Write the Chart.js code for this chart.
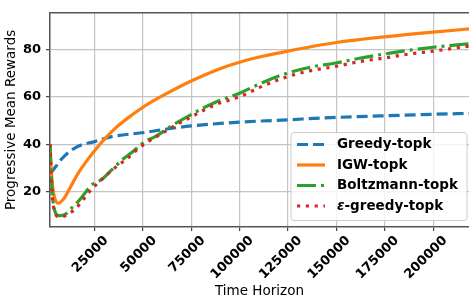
<!DOCTYPE html>
<html>
<head>
<meta charset="utf-8">
<script src="https://cdn.jsdelivr.net/npm/chart.js@4"></script>
<style>
  html, body { margin: 0; padding: 0; background: #fff; }
  #wrap { width: 469px; height: 308px; }
</style>
</head>
<body>
<div id="wrap"><canvas id="chart" width="469" height="308"></canvas></div>
<script>
// values
const xTicks = [25000, 50000, 75000, 100000, 125000, 150000, 175000, 200000];
const yTicks = [20, 40, 60, 80];

const greedyX = [2100, 3000, 5000, 8200, 12000, 16700, 25400, 34000, 51200, 60500, 75000, 100000, 125000, 147000, 175000, 200000, 218500];
const greedyY = [28, 28.5, 30.5, 33.9, 36.8, 39.2, 41.2, 43.2, 45, 46.2, 47.7, 49.3, 50.3, 51.2, 52, 52.6, 53];

const igwX = [2100, 2700, 3500, 4500, 6400, 8000, 9900, 13000, 16700, 21000, 25400, 30500, 36000, 42600, 48000, 54700, 62000, 75000, 89900, 100000, 112000, 125000, 150000, 175000, 200000, 218500];
const igwY = [40, 30, 22, 17.5, 15.2, 16, 17.9, 22.5, 27.9, 32.9, 37.6, 42.4, 46.9, 51.2, 54.4, 57.9, 61.2, 66.6, 71.8, 74.5, 77, 79.2, 82.8, 85.2, 87.2, 88.5];

const boltzX = [2100, 2600, 3200, 4000, 5000, 6500, 7500, 9900, 13300, 16500, 20200, 23000, 25400, 28800, 34000, 40000, 44300, 51200, 56400, 65000, 75000, 87000, 100000, 112000, 125000, 137000, 150000, 162000, 175000, 187000, 200000, 218500];
const boltzY = [40, 30, 20, 14, 11, 10, 10, 10.5, 13.2, 15.8, 19.5, 22.5, 23.9, 25.2, 29.2, 33.9, 36.5, 41.2, 43.2, 47.8, 52.5, 57.5, 61.5, 66, 70, 72.5, 74.2, 76.2, 78, 79.5, 80.8, 82.3];

const epsX = [2100, 2600, 3200, 4000, 5000, 6500, 8000, 10000, 12500, 15000, 19000, 23700, 27000, 30500, 34000, 37400, 42000, 47700, 53000, 59800, 67000, 75000, 87000, 100000, 112000, 125000, 137000, 150000, 162000, 175000, 187000, 200000, 218500];
const epsY = [40, 30, 19, 13.5, 10.5, 9.5, 9.5, 10, 11.2, 12.6, 16.5, 21.2, 23.8, 26.5, 29, 31.2, 34, 38.2, 41.2, 44.5, 48, 51.5, 56.5, 60, 64.5, 68.5, 71, 72.8, 74.8, 76.3, 77.9, 79.2, 81.3];

const seriesNames = ["Greedy-topk", "IGW-topk", "Boltzmann-topk", "ε-greedy-topk"];

const FONT = "'DejaVu Sans', sans-serif";

function pts(xs, ys) {
  return xs.map((x, i) => ({ x: x, y: ys[i] }));
}

// legend drawn inside the plot, like the matplotlib one
const insideLegend = {
  id: "insideLegend",
  afterDraw(chart) {
    const ctx = chart.ctx;
    const area = chart.chartArea;
    ctx.save();
    // top spine
    ctx.strokeStyle = "#555";
    ctx.lineWidth = 1.5;
    ctx.beginPath();
    ctx.moveTo(area.left, area.top);
    ctx.lineTo(area.right, area.top);
    ctx.stroke();

    const bx = 291, by = 132.5, bw = 176, bh = 88;
    ctx.fillStyle = "rgba(255,255,255,0.8)";
    ctx.strokeStyle = "#cccccc";
    ctx.lineWidth = 1;
    ctx.beginPath();
    ctx.roundRect(bx, by, bw, bh, 3);
    ctx.fill();
    ctx.stroke();

    chart.data.datasets.forEach((ds, row) => {
      const y = 144.5 + row * 20.5;
      ctx.strokeStyle = ds.borderColor;
      ctx.lineWidth = ds.borderWidth;
      ctx.setLineDash(ds.borderDash || []);
      ctx.beginPath();
      ctx.moveTo(297, y);
      ctx.lineTo(325, y);
      ctx.stroke();
      ctx.setLineDash([]);

      ctx.fillStyle = "#000";
      ctx.textBaseline = "middle";
      ctx.textAlign = "left";
      let tx = 337;
      let label = ds.label;
      if (label.startsWith("ε")) {
        ctx.font = "italic bold 13.5px " + FONT;
        ctx.fillText("ε", tx, y);
        tx += ctx.measureText("ε").width;
        label = label.slice(1);
      }
      ctx.font = "bold 13.5px " + FONT;
      ctx.fillText(label, tx, y);
    });
    ctx.restore();
  }
};

const lineBase = {
  fill: false,
  pointRadius: 0,
  borderWidth: 3.2,
  tension: 0.4,
  cubicInterpolationMode: "monotone",
  borderCapStyle: "butt"
};

new Chart(document.getElementById("chart"), {
  type: "line",
  data: {
    datasets: [
      Object.assign({}, lineBase, {
        label: seriesNames[0],
        data: pts(greedyX, greedyY),
        borderColor: "#1f77b4",
        borderDash: [11, 5],
        order: 4
      }),
      Object.assign({}, lineBase, {
        label: seriesNames[1],
        data: pts(igwX, igwY),
        borderColor: "#ff7f0e",
        order: 3
      }),
      Object.assign({}, lineBase, {
        label: seriesNames[2],
        data: pts(boltzX, boltzY),
        borderColor: "#2ca02c",
        borderDash: [19, 5, 3, 5],
        order: 2
      }),
      Object.assign({}, lineBase, {
        label: seriesNames[3],
        data: pts(epsX, epsY),
        borderColor: "#d62728",
        borderDash: [3.2, 5.6],
        order: 1
      })
    ]
  },
  options: {
    responsive: false,
    animation: false,
    layout: { padding: { top: 1, right: 0, left: 0, bottom: 0 } },
    plugins: {
      legend: { display: false },
      tooltip: { enabled: false }
    },
    scales: {
      x: {
        type: "linear",
        min: 2100,
        max: 218500,
        afterBuildTicks: (scale) => { scale.ticks = xTicks.map(v => ({ value: v })); },
        afterFit: (scale) => { scale.height = 81; },
        ticks: {
          minRotation: 45,
          maxRotation: 45,
          autoSkip: false,
          padding: 2,
          labelOffset: 12,
          color: "#000",
          font: { family: FONT, size: 13, weight: "bold" },
          callback: (v) => String(v)
        },
        grid: { color: "#c4c4c4", lineWidth: 1.2, tickColor: "#444", tickLength: 4 },
        border: { color: "#555", width: 1.5 },
        title: {
          display: true,
          text: "Time Horizon",
          color: "#000",
          font: { family: FONT, size: 13.5 },
          padding: { top: 0, bottom: 8 }
        }
      },
      y: {
        min: 5.2,
        max: 95.3,
        afterBuildTicks: (scale) => { scale.ticks = yTicks.map(v => ({ value: v })); },
        afterFit: (scale) => { scale.width = 50; },
        ticks: {
          padding: 5,
          color: "#000",
          font: { family: FONT, size: 13, weight: "bold" }
        },
        grid: { color: "#c4c4c4", lineWidth: 1.2, tickColor: "#444", tickLength: 4 },
        border: { color: "#555", width: 1.5 },
        title: {
          display: true,
          text: "Progressive Mean Rewards",
          color: "#000",
          font: { family: FONT, size: 13.5 },
          padding: { top: 3, bottom: 0 }
        }
      }
    }
  },
  plugins: [insideLegend]
});
</script>
</body>
</html>
